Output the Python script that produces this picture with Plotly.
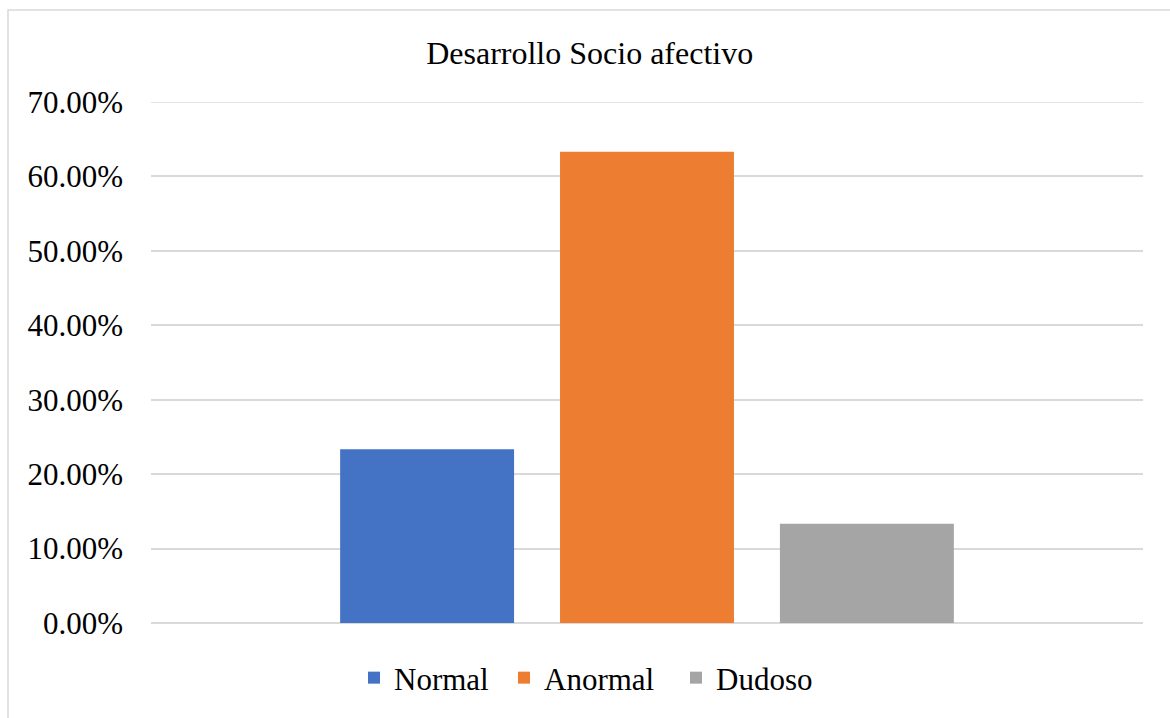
import plotly.graph_objects as go

# Socio-affective development results (share of children per outcome)
category = ["Desarrollo Socio afectivo"]
series_names = ["Normal", "Anormal", "Dudoso"]
series_values = [[0.2333], [0.6333], [0.1333]]
series_colors = ["#4472C4", "#ED7D31", "#A5A5A5"]
y_ticks = [0.0, 0.1, 0.2, 0.3, 0.4, 0.5, 0.6, 0.7]

W, H = 1170, 718
ML, MR, MT, MB = 151, 27, 102, 95
PW, PH = W - ML - MR, H - MT - MB

FONT = "Liberation Serif, Times New Roman, serif"
FS = 31
GRID = "#D9D9D9"

legend_ids = ["legend", "legend2", "legend3"]
legend_left_px = [354, 504, 676]


def px_x(p):
    return (p - ML) / PW


def px_y(p):
    return (H - MB - p) / PH


fig = go.Figure()
for name, vals, color, lg in zip(series_names, series_values, series_colors, legend_ids):
    fig.add_trace(go.Bar(x=category, y=vals, name=name, marker_color=color,
                         marker_line_width=0, legend=lg))

# outer chart frame
fig.add_shape(type="rect", xref="paper", yref="paper",
              x0=px_x(8), x1=px_x(1185), y0=px_y(740), y1=px_y(10),
              line=dict(color=GRID, width=1.5), fillcolor="rgba(0,0,0,0)",
              layer="below")
# gridline at the top of the value range (plotly clips grid at the axis ends)
fig.add_shape(type="line", xref="paper", yref="y", x0=0, x1=1,
              y0=y_ticks[-1], y1=y_ticks[-1],
              line=dict(color=GRID, width=1.5), layer="below")

legend_common = dict(orientation="h", xanchor="left", xref="paper",
                     y=px_y(678), yanchor="middle", bgcolor="rgba(0,0,0,0)",
                     font=dict(family=FONT, size=FS, color="#000000"),
                     itemclick=False, itemdoubleclick=False)

fig.update_layout(
    width=W, height=H,
    margin=dict(l=ML, r=MR, t=MT, b=MB, autoexpand=False),
    paper_bgcolor="white", plot_bgcolor="white",
    font=dict(family=FONT, size=FS, color="#000000"),
    barmode="group", bargap=0.335, bargroupgap=0.209,
    title=dict(text="Desarrollo Socio afectivo", x=0.504, xref="container",
               xanchor="center", y=1 - 53 / H, yref="container", yanchor="middle",
               font=dict(family=FONT, size=32, color="#000000")),
    showlegend=True,
)
for lg, left in zip(legend_ids, legend_left_px):
    fig.update_layout({lg: dict(legend_common, x=px_x(left))})

fig.update_xaxes(showticklabels=False, showgrid=False, zeroline=False,
                 showline=False, ticks="")
fig.update_yaxes(range=[0, 0.7], tickvals=y_ticks, tickformat=".2%",
                 showgrid=True, gridcolor=GRID, gridwidth=1.5,
                 zeroline=True, zerolinecolor=GRID, zerolinewidth=1.5,
                 showline=False, ticks="", ticklabelstandoff=27,
                 tickfont=dict(family=FONT, size=FS, color="#000000"))

fig.write_html("out.html")
